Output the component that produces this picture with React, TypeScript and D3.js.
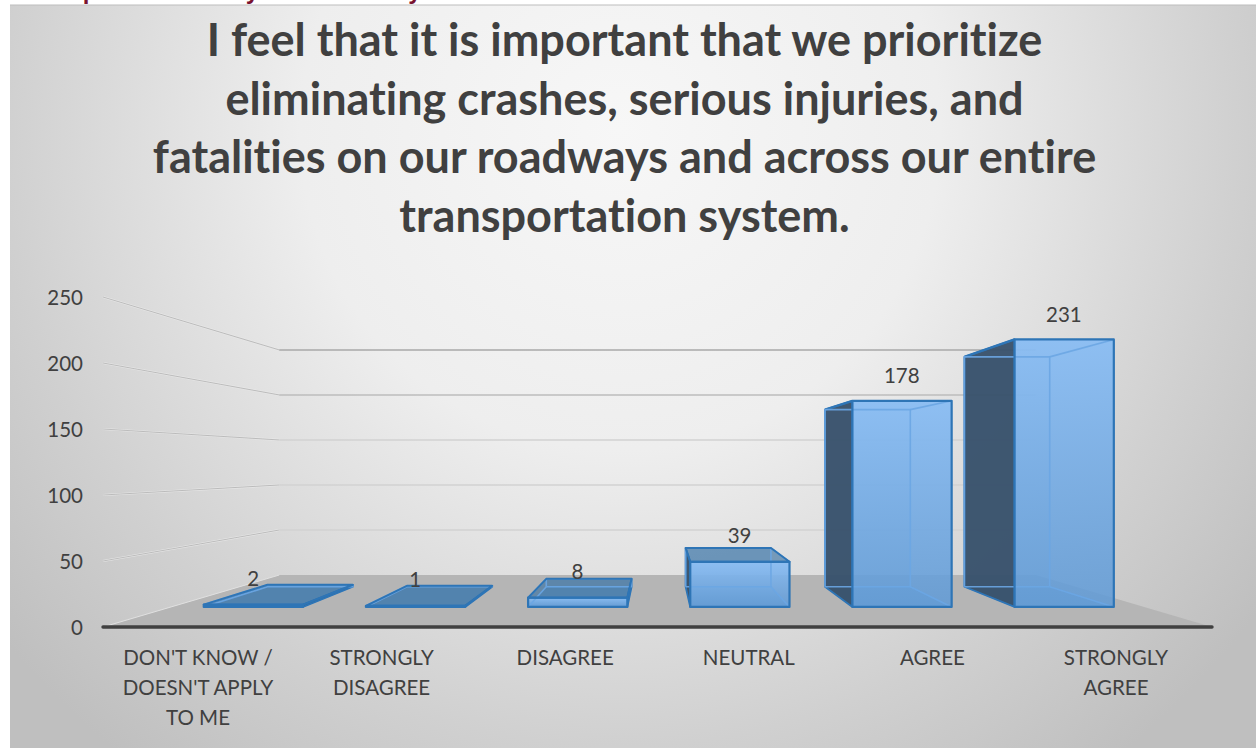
import React from 'react';
import * as d3 from 'd3';

const categories = [["DON'T KNOW /", "DOESN'T APPLY", "TO ME"], ["STRONGLY", "DISAGREE"], ["DISAGREE"], ["NEUTRAL"], ["AGREE"], ["STRONGLY", "AGREE"]];
const values = [2, 1, 8, 39, 178, 231];
const yTicks = [0, 50, 100, 150, 200, 250];
const titleLines = [
  "I feel that it is important that we prioritize",
  "eliminating crashes, serious injuries, and",
  "fatalities on our roadways and across our entire",
  "transportation system.",
];
const clippedHeadingGlyphs = ["p", "y", "y"];

const FONT = "Lato, 'Open Sans', sans-serif";
const x = d3.scaleLinear().domain([0, 6]).range([103, 1212]);
const y = d3.scaleLinear().domain([0, 250]).range([627, 297]);
const catLabelX = d3.scaleLinear().domain([0, 5]).range([198, 1116]);
const headingX = d3.scaleLinear().domain([0, 2]).range([90, 415]);
const vx = 657.5, vy = 463.5;
const persp = (z: number) => 1 / (1 + 0.466 * z);
const P = (cx: number, v: number, z: number): [number, number] => {
  const s = persp(z);
  return [vx + (x(cx) - vx) * s, vy + (y(v) - vy) * s];
};
const poly = (pts: [number, number][]) => d3.line()(pts) + 'Z';
const seg = (pts: [number, number][]) => d3.line()(pts)!;
const Z1 = 0.3, Z2 = 0.7, HALF = 0.306, BAR_SHIFT = 0.008;

export default function App() {
  const fl = [P(0, 0, 0), P(6, 0, 0), P(6, 0, 1), P(0, 0, 1)] as [number, number][];
  return (
    <svg width={1256} height={751} style={{ position: 'absolute', left: 0, top: 0, background: '#fff', fontVariantLigatures: 'none' }}>
      <defs>
        <radialGradient id="bg" gradientUnits="userSpaceOnUse" cx={620} cy={130} r={800}>
          <stop offset="0" stopColor="#f7f7f7" />
          <stop offset="0.4" stopColor="#eeeeee" />
          <stop offset="0.77" stopColor="#d0d0d0" />
          <stop offset="1" stopColor="#bfbfbf" />
        </radialGradient>
        <linearGradient id="face" x1="0" y1="0" x2="0" y2="1">
          <stop offset="0" stopColor="#8abdf3" stopOpacity="0.95" />
          <stop offset="1" stopColor="#5f9ad6" stopOpacity="0.85" />
        </linearGradient>
      </defs>
      <rect x={0} y={0} width={1256} height={751} fill="#fff" />
      <g fontFamily="'Liberation Sans', sans-serif" fontWeight="700" fontSize={24} fill="#7a1230">
        {clippedHeadingGlyphs.map((g, i) => <text key={i} x={headingX(i)} y={-1} textAnchor="middle">{g}</text>)}
      </g>
      <rect x={10} y={5} width={1246} height={743} fill="url(#bg)" />
      <line x1={10} x2={1256} y1={5} y2={5} stroke="#bdbdbd" />

      <g textAnchor="middle" fontFamily={FONT} fontWeight="700" fontSize={45} fill="#404040">
        {titleLines.map((t, i) => <text key={i} x={624.5} y={56 + i * 58.5}>{t}</text>)}
      </g>

      <path d={poly(fl)} fill="#b5b5b5" />

      {yTicks.filter(t => t > 0).map(t => {
        const a = P(0, t, 0), b = P(0, t, 1), c = P(6, t, 1);
        const tone = t === 250 ? '#a8a8a8' : t === 200 ? '#bcbcbc' : '#d2d2d2';
        return (
          <g key={t} fill="none">
            <path d={seg([a, b])} stroke="#e8e8e8" strokeWidth={2.2} />
            <path d={seg([a, b])} stroke="#b0b0b0" strokeWidth={0.8} />
            <path d={seg([b, c])} stroke={tone} strokeWidth={t === 250 ? 1.6 : 1.4} />
          </g>
        );
      })}
      <path d={seg([P(0, 0, 0), P(0, 0, 1)])} stroke="#e0e0e0" strokeWidth={1} fill="none" />

      {values.map((v, i) => {
        const l = i + 0.5 - HALF + BAR_SHIFT, r = i + 0.5 + HALF + BAR_SHIFT;
        const f = (cx: number, h: number) => P(cx, h, Z1);
        const b = (cx: number, h: number) => P(cx, h, Z2);
        const line = '#2e75b6';
        const soft = '#6ba6e3';
        const sideX = i < 3 ? r : l;
        const far = i < 3 ? l : r;
        const backFace = [b(l, 0), b(r, 0), b(r, v), b(l, v)];
        const floor = [f(l, 0), f(r, 0), b(r, 0), b(l, 0)];
        const side = [f(sideX, 0), b(sideX, 0), b(sideX, v), f(sideX, v)];
        const top = [f(l, v), f(r, v), b(r, v), b(l, v)];
        const front = [f(l, 0), f(r, 0), f(r, v), f(l, v)];
        const topVisible = f(l, v)[1] > b(l, v)[1];
        const labelX = P(i + 0.5, v, Z1)[0] + 1;
        const labelY = P(i + 0.5, v, 0.5)[1] - (16 + 0.082 * v) + 1;
        return (
          <g key={i} strokeLinejoin="round">
            <path d={poly(floor)} fill="#5b9bd5" fillOpacity={0.5} stroke={soft} strokeWidth={1} />
            <path d={poly(backFace)} fill="#5b9bd5" fillOpacity={0.2} stroke="none" />
            <path d={poly(side)} fill="#37506a" fillOpacity={0.95} stroke={line} strokeWidth={1.8} />
            {topVisible && <path d={poly(top)} fill="#2e6a9f" fillOpacity={0.6} stroke="none" />}
            {!topVisible && <path d={seg([f(sideX, v), b(sideX, v)])} stroke={line} strokeWidth={2.4} fill="none" />}
            <path d={poly(front)} fill="url(#face)" stroke="none" />
            <g fill="none" stroke={soft} strokeWidth={1.6} strokeOpacity={0.9}>
              <path d={seg([b(l, 0), b(r, 0), b(r, v), b(l, v), b(l, 0)])} />
              <path d={seg([f(far, 0), b(far, 0)])} />
              <path d={seg([f(far, v), b(far, v)])} />
            </g>
            {topVisible && <path d={poly(top)} fill="none" stroke={line} strokeWidth={2} />}
            <path d={poly(front)} fill="none" stroke={line} strokeWidth={2.2} />
            <text x={labelX} y={labelY} dy="0.35em" textAnchor="middle" fontFamily={FONT} fontSize={20.5} fill="#404040">{v}</text>
          </g>
        );
      })}

      <line x1={x(0)} x2={x(6)} y1={y(0)} y2={y(0)} stroke="#404040" strokeWidth={3.4} strokeLinecap="round" />

      <g fontFamily={FONT} fontSize={20.5} fill="#404040">
        {yTicks.map(t => (
          <text key={t} x={83} y={y(t) + 8} textAnchor="end">{t}</text>
        ))}
        {categories.map((lines, i) => lines.map((t, j) => (
          <text key={j} x={catLabelX(i)} y={665 + j * 30} textAnchor="middle">{t}</text>
        )))}
      </g>
    </svg>
  );
}
